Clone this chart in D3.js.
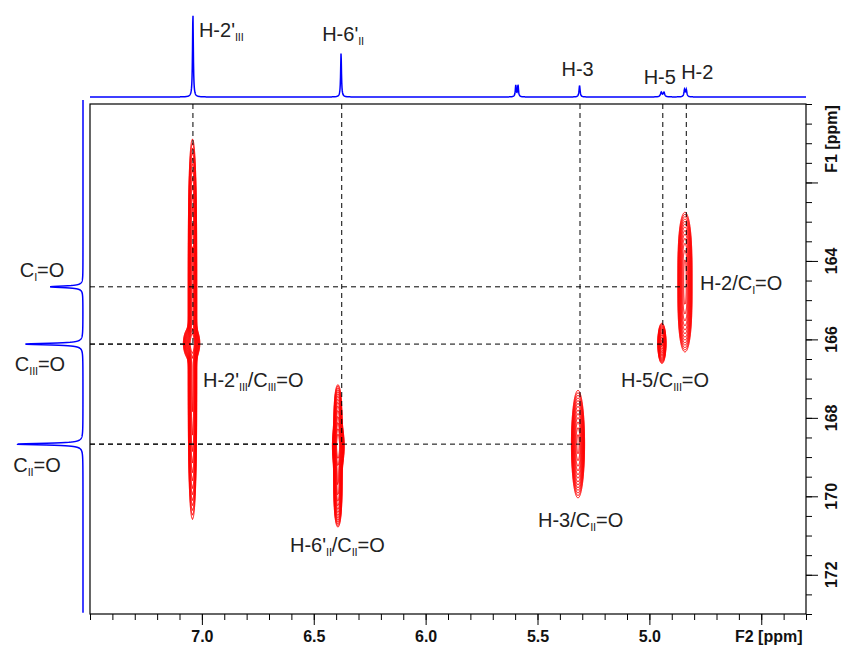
<!DOCTYPE html>
<html><head><meta charset="utf-8">
<script src="https://cdn.jsdelivr.net/npm/d3@7"></script>
<style>body{margin:0;background:#fff}svg{display:block}</style>
</head><body>
<svg id="c" width="845" height="652"></svg>
<script>
// ---------------- data ----------------
const f2Domain = [7.5, 4.3];
const f1Domain = [160, 173];
const f2MajorTicks = [7.0, 6.5, 6.0, 5.5, 5.0, 4.5];
const f2TickLabels = ["7.0", "6.5", "6.0", "5.5", "5.0", ""];
const f1MajorTicks = [162, 164, 166, 168, 170, 172];
const f1TickLabels = ["", "164", "166", "168", "170", "172"];

// 1H projection (F2)
const hPeakPpm    = [7.040, 6.378, 5.597, 5.587, 5.312, 4.947, 4.935, 4.843, 4.835];
const hPeakHeight = [1.00, 0.53, 0.14, 0.14, 0.14, 0.055, 0.055, 0.085, 0.085];
const hPeakWidth  = [0.0022, 0.0022, 0.0025, 0.0025, 0.0028, 0.004, 0.004, 0.003, 0.003];

// 13C projection (F1)
const cPeakPpm    = [164.66, 166.12, 168.67];
const cPeakHeight = [0.50, 0.88, 1.00];
const cPeakWidth  = [0.025, 0.025, 0.025];

// HMBC correlations (H ppm -> C ppm)
const corrH = [7.040, 6.375, 5.310, 4.940, 4.835];
const corrC = [166.12, 168.67, 168.67, 166.12, 164.66];

// cross-peak components: F2 centre, F1 centre, F2 width, F1 width, shape exponent, amplitude
const xpF2  = [7.042, 7.046, 6.392, 6.390, 5.319, 4.841, 4.944];
const xpF1  = [165.74, 166.10, 168.97, 168.72, 168.67, 164.54, 166.10];
const xpWF2 = [0.0078, 0.0150, 0.0078, 0.0110, 0.0120, 0.0130, 0.0075];
const xpWF1 = [3.10, 0.18, 1.16, 0.26, 0.56, 0.98, 0.21];
const xpExp = [4, 2, 4, 2, 2, 3, 2];
const xpAmp = [1.0, 1.0, 1.0, 0.8, 1.0, 1.0, 1.0];
const contourLevels = [0.05, 0.065, 0.085, 0.11, 0.14, 0.18, 0.23, 0.3, 0.38, 0.48, 0.6, 0.75, 0.9, 1.1, 1.35];

// labels
const topLabels = [[["H-2'", 0], ["III", 1]], [["H-6'", 0], ["II", 1]], [["H-3", 0]], [["H-5", 0]], [["H-2", 0]]];
const carbonLabels = [[["C", 0], ["I", 1], ["=O", 0]], [["C", 0], ["III", 1], ["=O", 0]], [["C", 0], ["II", 1], ["=O", 0]]];
const crossLabels = [
  [["H-2'", 0], ["III", 1], ["/C", 0], ["III", 1], ["=O", 0]],
  [["H-6'", 0], ["II", 1], ["/C", 0], ["II", 1], ["=O", 0]],
  [["H-3/C", 0], ["II", 1], ["=O", 0]],
  [["H-5/C", 0], ["III", 1], ["=O", 0]],
  [["H-2/C", 0], ["I", 1], ["=O", 0]]
];

// ---------------- layout ----------------
const L = 90, R = 806, T = 104, B = 614;
const svg = d3.select("#c");
const x = d3.scaleLinear().domain(f2Domain).range([L, R]);
const y = d3.scaleLinear().domain(f1Domain).range([T, B]);
const FONT = "'Liberation Sans', Arial, sans-serif";
const TXT = "#222";

svg.append("defs").append("clipPath").attr("id", "plot")
  .append("rect").attr("x", L).attr("y", T).attr("width", R - L).attr("height", B - T);

// ---------------- contour grid (whole plot, 1 px cells) ----------------
const n = R - L, m = B - T;
const grid = new Float64Array(n * m);
const colPpm = Float64Array.from({length: n}, (_, i) => x.invert(L + i + 0.5));
for (let j = 0; j < m; j++) {
  const yp = y.invert(T + j + 0.5);
  for (let k = 0; k < xpF2.length; k++) {
    const dy = Math.abs((yp - xpF1[k]) / xpWF1[k]);
    const ey = Math.pow(dy, xpExp[k]);
    if (ey > 30) continue;
    for (let i = 0; i < n; i++) {
      const dx = (colPpm[i] - xpF2[k]) / xpWF2[k];
      if (dx > 8 || dx < -8) continue;
      grid[i + j * n] += xpAmp[k] * Math.exp(-0.5 * (dx * dx + ey));
    }
  }
}
const contours = d3.contours().size([n, m]).thresholds(contourLevels)(grid);
svg.append("g").attr("clip-path", "url(#plot)")
  .append("g").attr("transform", `translate(${L},${T})`)
  .selectAll("path").data(contours).join("path")
  .attr("d", d3.geoPath())
  .attr("fill", "none").attr("stroke", "#ff0000").attr("stroke-width", 1);

// ---------------- dashed correlation lines ----------------
const dash = svg.append("g").attr("stroke", "#000").attr("stroke-width", 1).attr("stroke-dasharray", "5,4");
corrH.forEach((h, i) => {
  dash.append("line").attr("x1", x(h)).attr("x2", x(h)).attr("y1", y(f1Domain[0])).attr("y2", y(corrC[i]));
  dash.append("line").attr("x1", x(f2Domain[0])).attr("x2", x(h)).attr("y1", y(corrC[i])).attr("y2", y(corrC[i]));
});

// ---------------- frame & axes ----------------
svg.append("rect").attr("x", L).attr("y", T).attr("width", R - L).attr("height", B - T)
  .attr("fill", "none").attr("stroke", "#000").attr("stroke-width", 1.2);

const f2Minor = d3.range(43, 76).map(v => v / 10);
const xMinor = d3.axisBottom(x).tickValues(f2Minor).tickSize(6).tickFormat("");
const xMajor = d3.axisBottom(x).tickValues(f2MajorTicks).tickSize(11).tickPadding(6)
  .tickFormat((d, i) => f2TickLabels[i]);
const gxm = svg.append("g").attr("transform", `translate(0,${B})`).call(xMinor);
const gx = svg.append("g").attr("transform", `translate(0,${B})`).call(xMajor);
[gxm, gx].forEach(g => { g.select(".domain").remove(); g.selectAll("line").attr("stroke", "#000"); });
gx.selectAll("text").attr("font-family", FONT).attr("font-size", 16).attr("font-weight", "bold").attr("fill", "#111");

const f1Minor = d3.range(320, 347).map(v => v / 2);
const yMinor = d3.axisRight(y).tickValues(f1Minor).tickSize(6).tickFormat("");
const yMajor = d3.axisRight(y).tickValues(f1MajorTicks).tickSize(12).tickFormat("");
const gym = svg.append("g").attr("transform", `translate(${R},0)`).call(yMinor);
const gy = svg.append("g").attr("transform", `translate(${R},0)`).call(yMajor);
[gym, gy].forEach(g => { g.select(".domain").remove(); g.selectAll("line").attr("stroke", "#000"); });
f1MajorTicks.forEach((v, i) => {
  if (!f1TickLabels[i]) return;
  svg.append("text").attr("transform", `translate(831,${y(v)}) rotate(-90)`)
    .attr("text-anchor", "middle").attr("dy", "0.36em")
    .attr("font-family", FONT).attr("font-size", 16).attr("font-weight", "bold").attr("fill", "#111")
    .text(f1TickLabels[i]);
});
svg.append("text").attr("x", 735).attr("y", 642)
  .attr("font-family", FONT).attr("font-size", 16).attr("font-weight", "bold").attr("fill", "#111")
  .text("F2 [ppm]");
svg.append("text").attr("transform", `translate(831,139) rotate(-90)`)
  .attr("text-anchor", "middle").attr("dy", "0.36em")
  .attr("font-family", FONT).attr("font-size", 16).attr("font-weight", "bold").attr("fill", "#111")
  .text("F1 [ppm]");

// ---------------- 1D projections ----------------
const topY = d3.scaleLinear().domain([0, 1]).range([97, 14]);
const topPts = d3.range(L, R + 0.01, 0.25).map(px => {
  const p = x.invert(px);
  let s = 0;
  hPeakPpm.forEach((c, k) => { const u = (p - c) / hPeakWidth[k]; s += hPeakHeight[k] / (1 + u * u); });
  return [px, topY(s)];
});
svg.append("path").attr("d", d3.line()(topPts)).attr("fill", "none").attr("stroke", "#0000ff").attr("stroke-width", 1.5);

const sideX = d3.scaleLinear().domain([0, 1]).range([83, 17]);
const sidePts = d3.range(T - 4, B - 1, 0.25).map(py => {
  const p = y.invert(py);
  let s = 0;
  cPeakPpm.forEach((c, k) => { const u = (p - c) / cPeakWidth[k]; s += cPeakHeight[k] / (1 + u * u); });
  return [sideX(s), py];
});
svg.append("path").attr("d", d3.line()(sidePts)).attr("fill", "none").attr("stroke", "#0000ff").attr("stroke-width", 1.5);

// ---------------- labels ----------------
function label(parts, px, py, anchor) {
  const t = svg.append("text").attr("x", px).attr("y", py).attr("text-anchor", anchor || "start")
    .attr("font-family", FONT).attr("font-size", 20).attr("fill", TXT);
  let shift = 0;
  parts.forEach(([s, sub]) => {
    const want = sub ? 4 : 0;
    const ts = t.append("tspan").attr("dy", want - shift).text(s);
    if (sub) ts.attr("font-size", 11).attr("letter-spacing", -0.2);
    shift = want;
  });
  return t;
}
label(topLabels[0], x(hPeakPpm[0]) + 6, 37, "start");
label(topLabels[1], x(hPeakPpm[1]) + 2, 41, "middle");
label(topLabels[2], x(hPeakPpm[4]) - 2, 76, "middle");
label(topLabels[3], x(corrH[3]) - 3, 84, "middle");
label(topLabels[4], x(corrH[4]) + 11, 79, "middle");
label(carbonLabels[0], 42, y(cPeakPpm[0]) - 10, "middle");
label(carbonLabels[1], 40, y(cPeakPpm[1]) + 27, "middle");
label(carbonLabels[2], 37, y(cPeakPpm[2]) + 28, "middle");
label(crossLabels[0], 203, y(corrC[0]) + 43, "start");
label(crossLabels[1], 290, 552, "start");
label(crossLabels[2], 538, 527, "start");
label(crossLabels[3], 621, y(corrC[3]) + 43, "start");
label(crossLabels[4], 700, y(corrC[4]) + 3, "start");
</script>
</body></html>
